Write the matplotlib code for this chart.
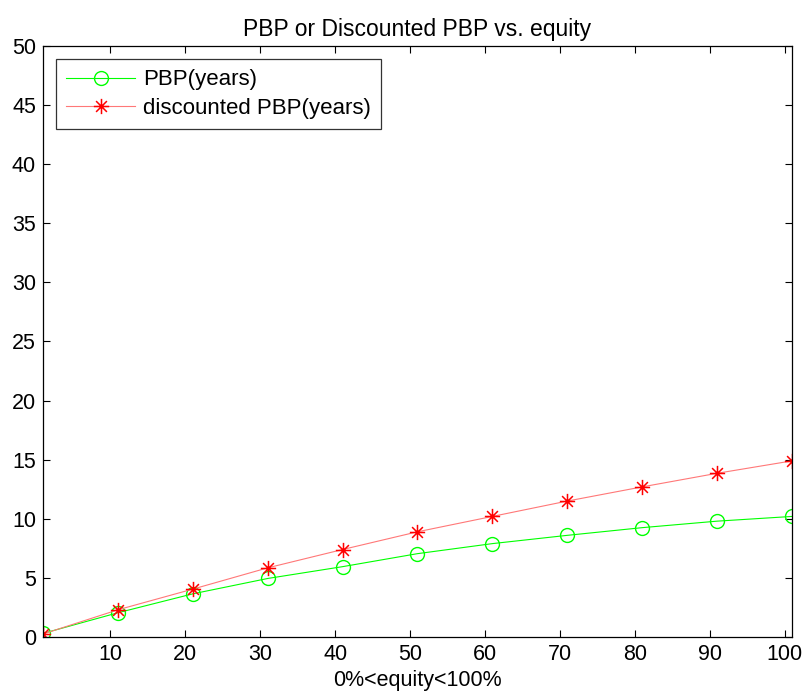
import matplotlib
matplotlib.use("Agg")
import matplotlib.pyplot as plt
from matplotlib.path import Path
import numpy as np

plt.rcParams['font.family'] = ['Liberation Sans', 'DejaVu Sans']

equity = [1, 11, 21, 31, 41, 51, 61, 71, 81, 91, 101]
pbp = [0.3, 2.05, 3.65, 4.95, 5.95, 7.05, 7.9, 8.6, 9.25, 9.8, 10.2]
dpbp = [0.25, 2.3, 4.05, 5.85, 7.4, 8.9, 10.2, 11.5, 12.7, 13.85, 14.9]
xticks = [10, 20, 30, 40, 50, 60, 70, 80, 90, 100]
yticks = [0, 5, 10, 15, 20, 25, 30, 35, 40, 45, 50]

# MATLAB-style asterisk marker: '+' and 'x' combined
d = 1 / np.sqrt(2)
verts = [(0, -1), (0, 1), (-1, 0), (1, 0), (-d, -d), (d, d), (-d, d), (d, -d)]
codes = [Path.MOVETO, Path.LINETO] * 4
asterisk = Path(verts, codes)

FS = 15.5

fig = plt.figure(figsize=(8.03, 6.97), dpi=100)
ax = fig.add_axes([0.0535, 0.0861, 0.9328, 0.8479])

ax.plot(equity, pbp, color='#00ff00', lw=0.8, marker='o', markersize=10,
        markerfacecolor='none', markeredgecolor='#00ff00', markeredgewidth=1.0,
        label='PBP(years)')
ax.plot(equity, dpbp, color='#ff7878', lw=0.8, marker=asterisk, markersize=11,
        markerfacecolor='none', markeredgecolor='#ff0000', markeredgewidth=1.1,
        label='discounted PBP(years)')

ax.set_xlim(1, 101)
ax.set_ylim(0, 50)
ax.set_xticks(xticks)
ax.set_yticks(yticks)
ax.tick_params(direction='in', top=True, right=True, labelsize=FS, length=5, width=0.8, pad=5)
for s in ax.spines.values():
    s.set_linewidth(0.9)
ax.set_title('PBP or Discounted PBP vs. equity', fontsize=16.5, pad=7)
ax.set_xlabel('0%<equity<100%', fontsize=FS, labelpad=4)

leg = ax.legend(loc='upper left', fontsize=16, handlelength=3.1, handletextpad=0.35,
                frameon=True, fancybox=False, edgecolor='black', borderaxespad=0.6,
                borderpad=0.45, labelspacing=0.35)
leg.get_frame().set_linewidth(0.9)

fig.savefig('out.png', dpi=100)
